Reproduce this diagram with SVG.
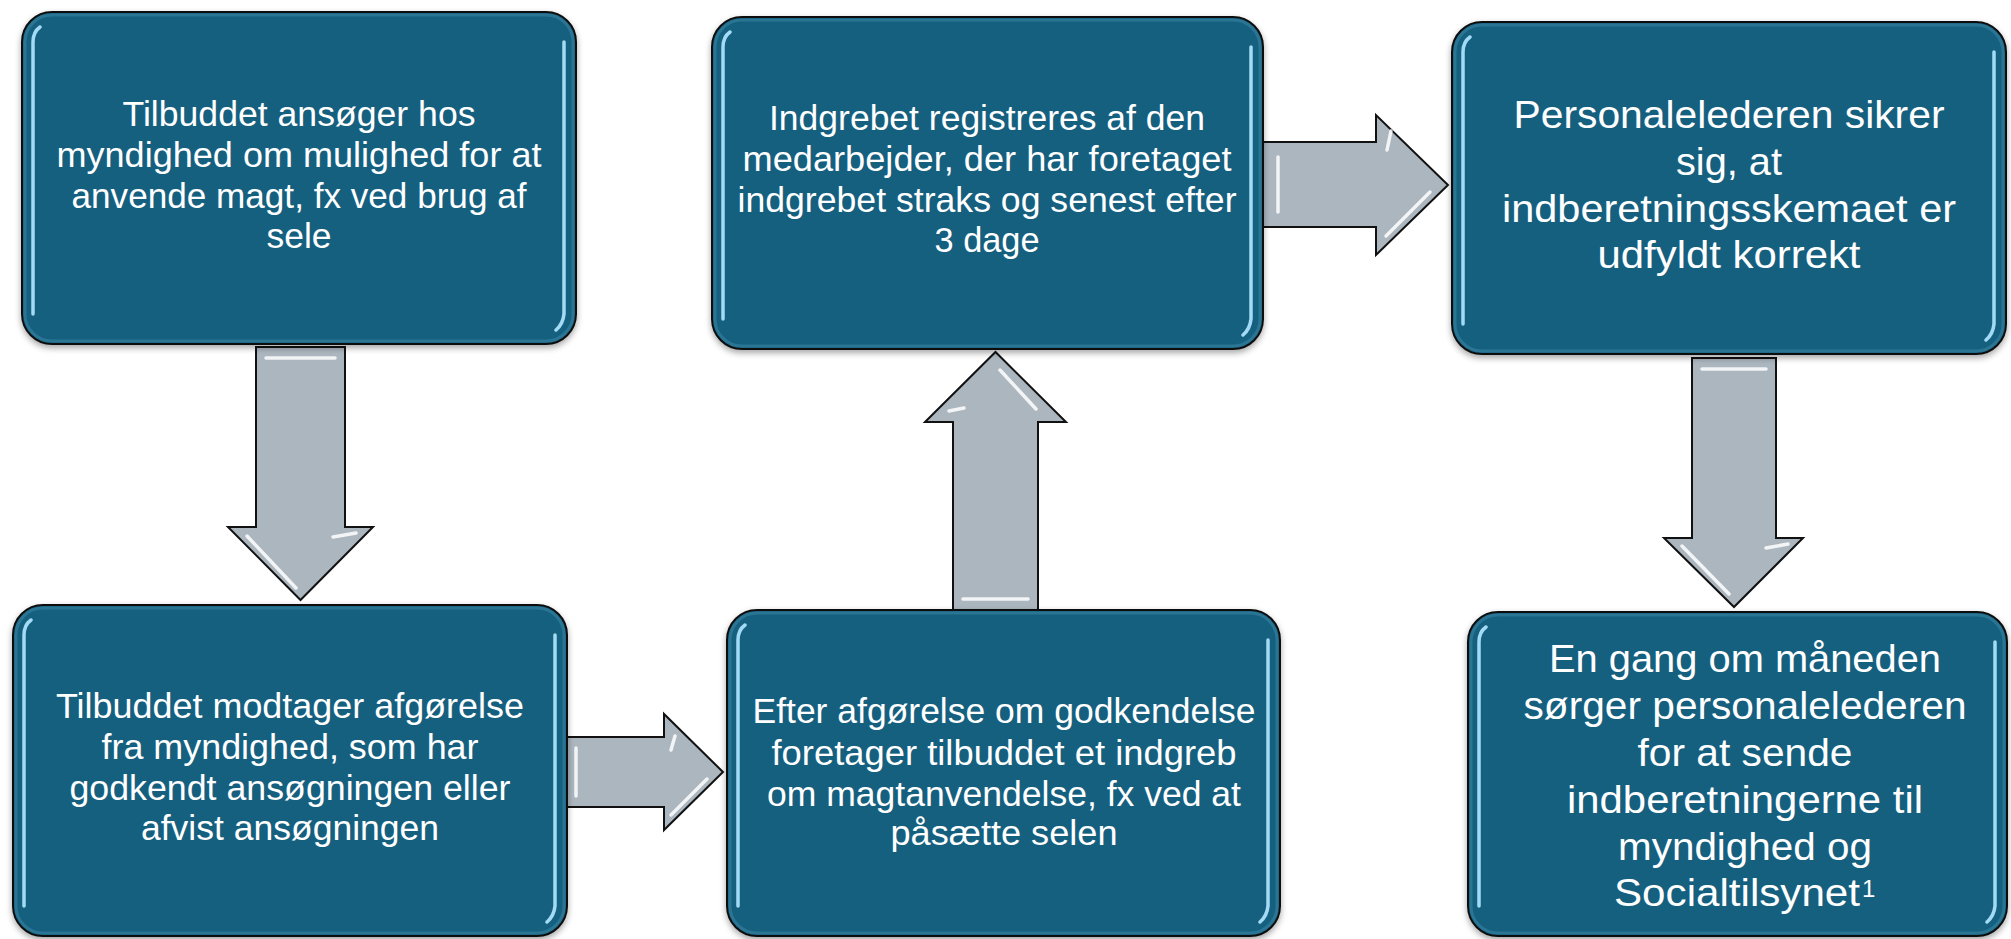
<svg xmlns="http://www.w3.org/2000/svg" width="2011" height="939" viewBox="0 0 2011 939">
<defs>
<filter id="shadow" x="-5%" y="-5%" width="110%" height="115%"><feDropShadow dx="0" dy="3" stdDeviation="3" flood-color="#000" flood-opacity="0.35"/></filter>
<filter id="glow" x="-20%" y="-5%" width="140%" height="110%"><feGaussianBlur stdDeviation="0.7"/></filter>
</defs>
<style>
.box{fill:#17607f;stroke:#111;stroke-width:2}
.rim{fill:none;stroke:#3d88aa;stroke-width:3;opacity:.5}
.hl{fill:none;stroke:#a3daf6;stroke-width:3.5;stroke-linecap:round;filter:url(#glow)}
.arrow{fill:#abb6bf;stroke:#111;stroke-width:2;stroke-linejoin:miter}
.ahl{fill:none;stroke:#fff;stroke-width:3.5;stroke-linecap:round;opacity:.85;filter:url(#glow)}
.t{font-family:"Liberation Sans",Arial,sans-serif;fill:#fff;text-anchor:middle;font-size:34.5px}
.tl{font-size:39.5px}
</style>
<rect width="2011" height="939" fill="#fff"/>
<g id="connectors">
<g id="arrow-1-4"><polygon class="arrow" points="256,347 345,347 345,527 373,527 300.5,600 228,527 256,527"/>
<path class="ahl" d="M266,358 L335,358 M247,536 L296,588 M333,537 L356,533"/></g>
<g id="arrow-4-5"><polygon class="arrow" points="565,737 664,737 664,714 723,772 664,830 664,807 565,807"/>
<path class="ahl" d="M576,748 L576,796 M671,815 L707,779 M671,750 L675,736"/></g>
<g id="arrow-5-2"><polygon class="arrow" points="953,610 953,422 925,422 995.5,352 1066,422 1038,422 1038,610"/>
<path class="ahl" d="M963,599 L1028,599 M1000,370 L1036,409 M949,411 L964,408"/></g>
<g id="arrow-2-3"><polygon class="arrow" points="1262,142 1376,142 1376,115 1448,185 1376,255 1376,227 1262,227"/>
<path class="ahl" d="M1278,157 L1278,212 M1386,236 L1430,192 M1387,150 L1391,131"/></g>
<g id="arrow-3-6"><polygon class="arrow" points="1692,358 1776,358 1776,538 1803,538 1734,607 1664,538 1692,538"/>
<path class="ahl" d="M1702,369 L1766,369 M1682,546 L1729,594 M1766,548 L1788,544"/></g>
</g>
<g id="node1">
<rect class="box" filter="url(#shadow)" x="22" y="12" width="554" height="332" rx="30"/>
<rect class="rim" x="25" y="15" width="548" height="326" rx="27"/>
<path class="hl" d="M33,314 L33,42 Q33,32 40,27 M564,42 L564,314 Q563,324 556,330"/>
<text class="t" x="299" y="126" textLength="353" lengthAdjust="spacingAndGlyphs">Tilbuddet ansøger hos</text>
<text class="t" x="299" y="167" textLength="485" lengthAdjust="spacingAndGlyphs">myndighed om mulighed for at</text>
<text class="t" x="299" y="208" textLength="455" lengthAdjust="spacingAndGlyphs">anvende magt, fx ved brug af</text>
<text class="t" x="299" y="248" textLength="65" lengthAdjust="spacingAndGlyphs">sele</text>
</g>
<g id="node2">
<rect class="box" filter="url(#shadow)" x="712" y="17" width="551" height="332" rx="30"/>
<rect class="rim" x="715" y="20" width="545" height="326" rx="27"/>
<path class="hl" d="M723,319 L723,47 Q723,37 730,32 M1251,47 L1251,319 Q1250,329 1243,335"/>
<text class="t" x="987" y="130" textLength="436" lengthAdjust="spacingAndGlyphs">Indgrebet registreres af den</text>
<text class="t" x="987" y="171" textLength="489" lengthAdjust="spacingAndGlyphs">medarbejder, der har foretaget</text>
<text class="t" x="987" y="212" textLength="499" lengthAdjust="spacingAndGlyphs">indgrebet straks og senest efter</text>
<text class="t" x="987" y="252" textLength="105" lengthAdjust="spacingAndGlyphs">3 dage</text>
</g>
<g id="node3">
<rect class="box" filter="url(#shadow)" x="1452" y="22" width="554" height="332" rx="30"/>
<rect class="rim" x="1455" y="25" width="548" height="326" rx="27"/>
<path class="hl" d="M1463,324 L1463,52 Q1463,42 1470,37 M1994,52 L1994,324 Q1993,334 1986,340"/>
<text class="t tl" x="1729" y="128" textLength="431" lengthAdjust="spacingAndGlyphs">Personalelederen sikrer</text>
<text class="t tl" x="1729" y="175" textLength="106" lengthAdjust="spacingAndGlyphs">sig, at</text>
<text class="t tl" x="1729" y="222" textLength="454" lengthAdjust="spacingAndGlyphs">indberetningsskemaet er</text>
<text class="t tl" x="1729" y="268" textLength="263" lengthAdjust="spacingAndGlyphs">udfyldt korrekt</text>
</g>
<g id="node4">
<rect class="box" filter="url(#shadow)" x="13" y="605" width="554" height="331" rx="30"/>
<rect class="rim" x="16" y="608" width="548" height="325" rx="27"/>
<path class="hl" d="M24,906 L24,635 Q24,625 31,620 M555,635 L555,906 Q554,916 547,922"/>
<text class="t" x="290" y="718" textLength="468" lengthAdjust="spacingAndGlyphs">Tilbuddet modtager afgørelse</text>
<text class="t" x="290" y="759" textLength="377" lengthAdjust="spacingAndGlyphs">fra myndighed, som har</text>
<text class="t" x="290" y="800" textLength="441" lengthAdjust="spacingAndGlyphs">godkendt ansøgningen eller</text>
<text class="t" x="290" y="840" textLength="298" lengthAdjust="spacingAndGlyphs">afvist ansøgningen</text>
</g>
<g id="node5">
<rect class="box" filter="url(#shadow)" x="727" y="610" width="553" height="326" rx="30"/>
<rect class="rim" x="730" y="613" width="547" height="320" rx="27"/>
<path class="hl" d="M738,906 L738,640 Q738,630 745,625 M1268,640 L1268,906 Q1267,916 1260,922"/>
<text class="t" x="1004" y="723" textLength="503" lengthAdjust="spacingAndGlyphs">Efter afgørelse om godkendelse</text>
<text class="t" x="1004" y="765" textLength="465" lengthAdjust="spacingAndGlyphs">foretager tilbuddet et indgreb</text>
<text class="t" x="1004" y="806" textLength="474" lengthAdjust="spacingAndGlyphs">om magtanvendelse, fx ved at</text>
<text class="t" x="1004" y="845" textLength="227" lengthAdjust="spacingAndGlyphs">påsætte selen</text>
</g>
<g id="node6">
<rect class="box" filter="url(#shadow)" x="1468" y="612" width="539" height="324" rx="30"/>
<rect class="rim" x="1471" y="615" width="533" height="318" rx="27"/>
<path class="hl" d="M1479,906 L1479,642 Q1479,632 1486,627 M1995,642 L1995,906 Q1994,916 1987,922"/>
<text class="t tl" x="1745" y="672" textLength="392" lengthAdjust="spacingAndGlyphs">En gang om måneden</text>
<text class="t tl" x="1745" y="719" textLength="443" lengthAdjust="spacingAndGlyphs">sørger personalelederen</text>
<text class="t tl" x="1745" y="766" textLength="215" lengthAdjust="spacingAndGlyphs">for at sende</text>
<text class="t tl" x="1745" y="813" textLength="356" lengthAdjust="spacingAndGlyphs">indberetningerne til</text>
<text class="t tl" x="1745" y="860" textLength="254" lengthAdjust="spacingAndGlyphs">myndighed og</text>
<text class="t tl" style="text-anchor:start"><tspan x="1614" y="906" textLength="246" lengthAdjust="spacingAndGlyphs">Socialtilsynet</tspan><tspan x="1862" y="897" font-size="24">1</tspan></text>
</g>
</svg>
